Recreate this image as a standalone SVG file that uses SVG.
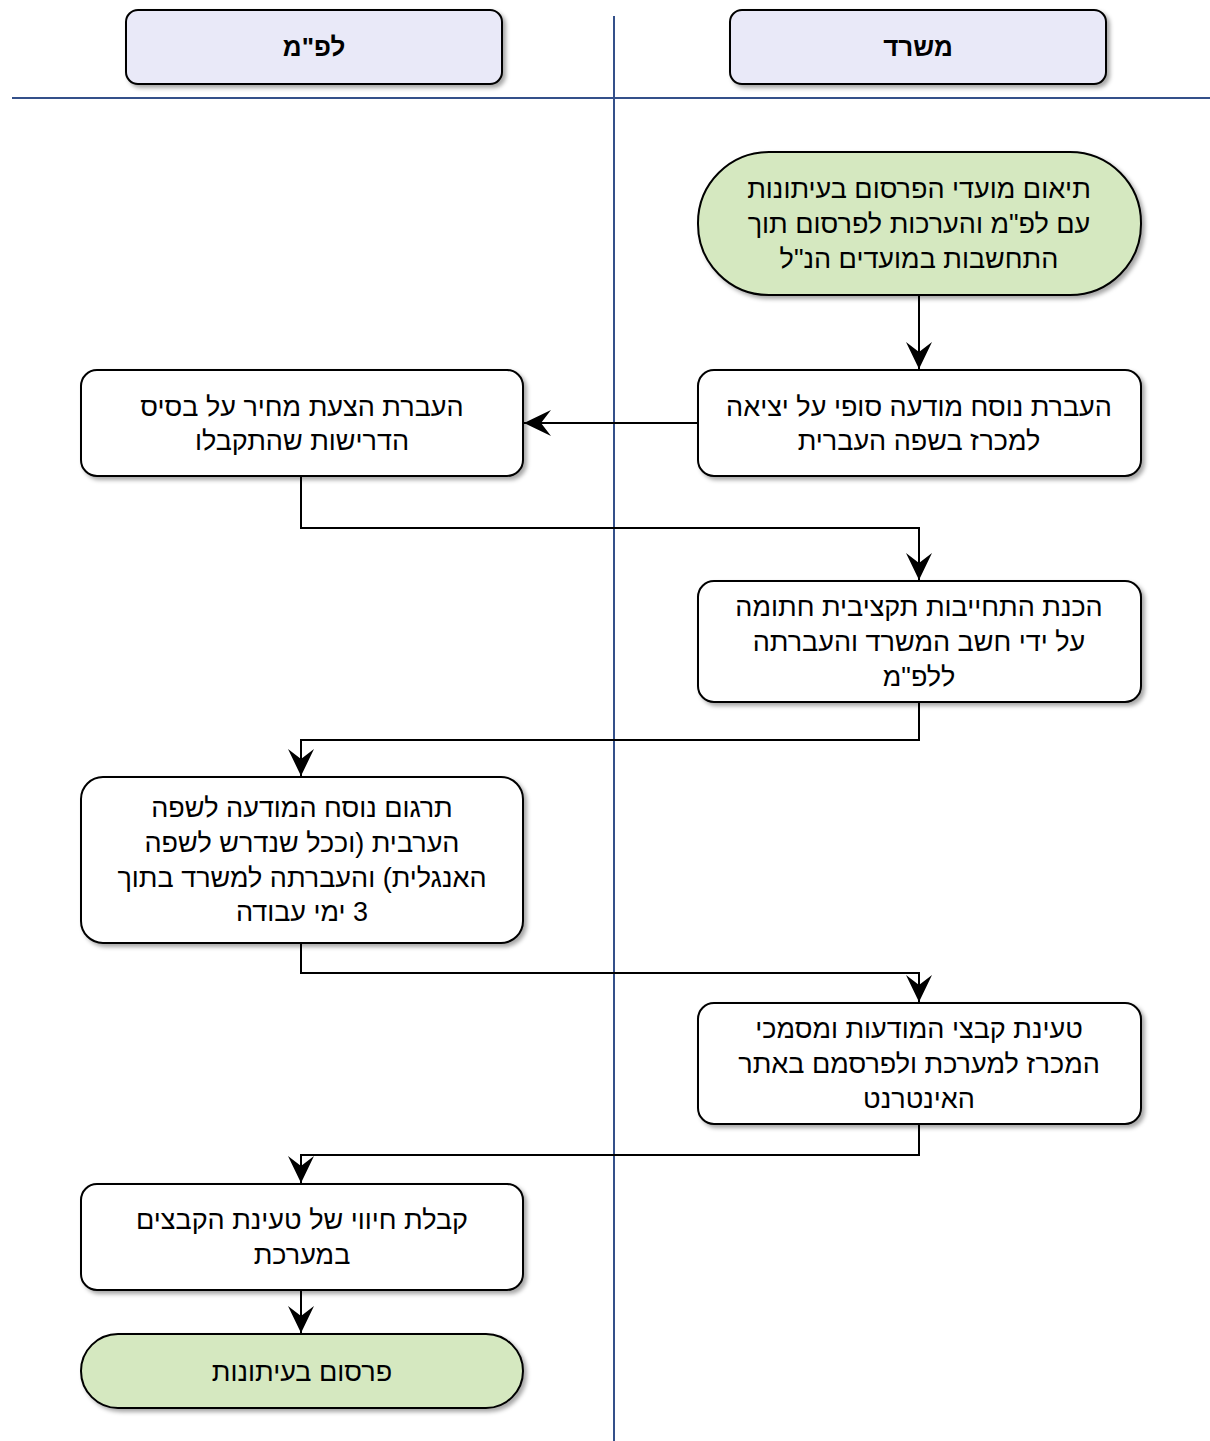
<svg xmlns="http://www.w3.org/2000/svg" width="1210" height="1441" viewBox="0 0 1210 1441">
<defs>
<filter id="sh" x="-10%" y="-10%" width="130%" height="130%">
<feDropShadow dx="3" dy="3" stdDeviation="2" flood-color="#000" flood-opacity="0.35"/>
</filter>
<marker id="arr" markerUnits="userSpaceOnUse" markerWidth="30" markerHeight="30" viewBox="-28 -14 30 28" refX="0" refY="0" orient="auto">
<path d="M0,0 L-27,-13 L-17,0 L-27,13 Z" fill="#000"/>
</marker>
</defs>
<style>
.hdr{fill:#E9E9F8;stroke:#000;stroke-width:2;filter:url(#sh)}
.box{fill:#fff;stroke:#000;stroke-width:2;filter:url(#sh)}
.term{fill:#D5E8C0;stroke:#000;stroke-width:2;filter:url(#sh)}
.lane{stroke:#34508A;stroke-width:2;fill:none}
.c{fill:none;stroke:#000;stroke-width:2;marker-end:url(#arr)}
text{font-family:"Liberation Sans",Arial,sans-serif;font-size:27px;fill:#000;text-anchor:middle;direction:rtl}
.ht{font-weight:bold;font-size:26px}
</style>
<g id="lanes">
<line class="lane" x1="12" y1="98" x2="1210" y2="98"/>
<line class="lane" x1="614" y1="16" x2="614" y2="1441"/>
</g>
<g id="hdr-lapam">
<rect class="hdr" x="126" y="10" width="376" height="74" rx="12"/>
<text class="ht" x="314" y="56">לפ"מ</text>
</g>
<g id="hdr-misrad">
<rect class="hdr" x="730" y="10" width="376" height="74" rx="12"/>
<text class="ht" x="918" y="56">משרד</text>
</g>
<g id="connectors">
<path class="c" d="M919,295 L919,369"/>
<path class="c" d="M698,423 L524,423"/>
<path class="c" d="M301,476 L301,528 L919,528 L919,580"/>
<path class="c" d="M919,702 L919,740 L301,740 L301,776"/>
<path class="c" d="M301,943 L301,973 L919,973 L919,1002"/>
<path class="c" d="M919,1124 L919,1155 L301,1155 L301,1183"/>
<path class="c" d="M301,1290 L301,1333"/>
</g>
<g id="n-start">
<rect class="term" x="698" y="152" width="443" height="143" rx="71" ry="71"/>
<text x="919" y="198">תיאום מועדי הפרסום בעיתונות</text>
<text x="919" y="233">עם לפ"מ והערכות לפרסום תוך</text>
<text x="919" y="268">התחשבות במועדים הנ"ל</text>
</g>
<g id="n-send-text">
<rect class="box" x="698" y="370" width="443" height="106" rx="16"/>
<text x="919" y="416">העברת נוסח מודעה סופי על יציאה</text>
<text x="919" y="450">למכרז בשפה העברית</text>
</g>
<g id="n-price">
<rect class="box" x="81" y="370" width="442" height="106" rx="16"/>
<text x="302" y="416">העברת הצעת מחיר על בסיס</text>
<text x="302" y="450">הדרישות שהתקבלו</text>
</g>
<g id="n-commit">
<rect class="box" x="698" y="581" width="443" height="121" rx="16"/>
<text x="919" y="616">הכנת התחייבות תקציבית חתומה</text>
<text x="919" y="651">על ידי חשב המשרד והעברתה</text>
<text x="919" y="686">ללפ"מ</text>
</g>
<g id="n-translate">
<rect class="box" x="81" y="777" width="442" height="166" rx="22"/>
<text x="302" y="817">תרגום נוסח המודעה לשפה</text>
<text x="302" y="852">הערבית (וככל שנדרש לשפה</text>
<text x="302" y="887">האנגלית) והעברתה למשרד בתוך</text>
<text x="302" y="921">3 ימי עבודה</text>
</g>
<g id="n-upload">
<rect class="box" x="698" y="1003" width="443" height="121" rx="16"/>
<text x="919" y="1038">טעינת קבצי המודעות ומסמכי</text>
<text x="919" y="1073">המכרז למערכת ולפרסמם באתר</text>
<text x="919" y="1108">האינטרנט</text>
</g>
<g id="n-confirm">
<rect class="box" x="81" y="1184" width="442" height="106" rx="16"/>
<text x="302" y="1229">קבלת חיווי של טעינת הקבצים</text>
<text x="302" y="1264">במערכת</text>
</g>
<g id="n-end">
<rect class="term" x="81" y="1334" width="442" height="74" rx="37" ry="37"/>
<text x="302" y="1381">פרסום בעיתונות</text>
</g>
</svg>
